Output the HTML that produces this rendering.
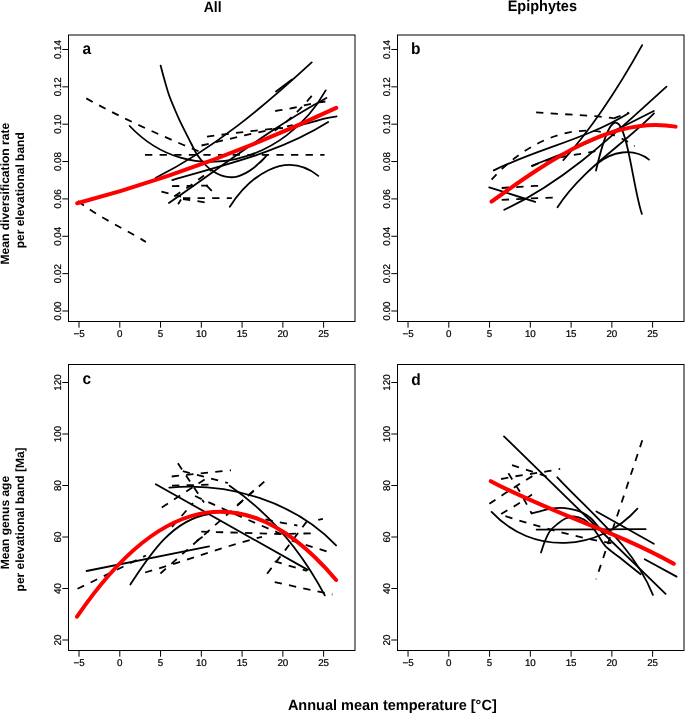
<!DOCTYPE html><html><head><meta charset="utf-8"><style>html,body{margin:0;padding:0;background:#fff;}svg{display:block;will-change:transform;}text{font-family:"Liberation Sans", sans-serif;text-rendering:geometricPrecision;}</style></head><body>
<svg width="685" height="714" viewBox="0 0 685 714">
<rect x="0" y="0" width="685" height="714" fill="#fff"/>
<rect x="68.5" y="35.0" width="286.50" height="286.50" fill="none" stroke="#000" stroke-width="1"/>
<line x1="79.03" y1="321.5" x2="79.03" y2="327.70" stroke="#000" stroke-width="1"/>
<text x="79.03" y="336.80" font-size="9.8" stroke="#000" stroke-width="0.22" text-anchor="middle">−5</text>
<line x1="119.80" y1="321.5" x2="119.80" y2="327.70" stroke="#000" stroke-width="1"/>
<text x="119.80" y="336.80" font-size="9.8" stroke="#000" stroke-width="0.22" text-anchor="middle">0</text>
<line x1="160.56" y1="321.5" x2="160.56" y2="327.70" stroke="#000" stroke-width="1"/>
<text x="160.56" y="336.80" font-size="9.8" stroke="#000" stroke-width="0.22" text-anchor="middle">5</text>
<line x1="201.33" y1="321.5" x2="201.33" y2="327.70" stroke="#000" stroke-width="1"/>
<text x="201.33" y="336.80" font-size="9.8" stroke="#000" stroke-width="0.22" text-anchor="middle">10</text>
<line x1="242.09" y1="321.5" x2="242.09" y2="327.70" stroke="#000" stroke-width="1"/>
<text x="242.09" y="336.80" font-size="9.8" stroke="#000" stroke-width="0.22" text-anchor="middle">15</text>
<line x1="282.86" y1="321.5" x2="282.86" y2="327.70" stroke="#000" stroke-width="1"/>
<text x="282.86" y="336.80" font-size="9.8" stroke="#000" stroke-width="0.22" text-anchor="middle">20</text>
<line x1="323.62" y1="321.5" x2="323.62" y2="327.70" stroke="#000" stroke-width="1"/>
<text x="323.62" y="336.80" font-size="9.8" stroke="#000" stroke-width="0.22" text-anchor="middle">25</text>
<line x1="62.30" y1="311.00" x2="68.5" y2="311.00" stroke="#000" stroke-width="1"/>
<text transform="translate(61.00,311.00) rotate(-90)" font-size="9.8" stroke="#000" stroke-width="0.22" text-anchor="middle">0.00</text>
<line x1="62.30" y1="273.64" x2="68.5" y2="273.64" stroke="#000" stroke-width="1"/>
<text transform="translate(61.00,273.64) rotate(-90)" font-size="9.8" stroke="#000" stroke-width="0.22" text-anchor="middle">0.02</text>
<line x1="62.30" y1="236.28" x2="68.5" y2="236.28" stroke="#000" stroke-width="1"/>
<text transform="translate(61.00,236.28) rotate(-90)" font-size="9.8" stroke="#000" stroke-width="0.22" text-anchor="middle">0.04</text>
<line x1="62.30" y1="198.92" x2="68.5" y2="198.92" stroke="#000" stroke-width="1"/>
<text transform="translate(61.00,198.92) rotate(-90)" font-size="9.8" stroke="#000" stroke-width="0.22" text-anchor="middle">0.06</text>
<line x1="62.30" y1="161.56" x2="68.5" y2="161.56" stroke="#000" stroke-width="1"/>
<text transform="translate(61.00,161.56) rotate(-90)" font-size="9.8" stroke="#000" stroke-width="0.22" text-anchor="middle">0.08</text>
<line x1="62.30" y1="124.20" x2="68.5" y2="124.20" stroke="#000" stroke-width="1"/>
<text transform="translate(61.00,124.20) rotate(-90)" font-size="9.8" stroke="#000" stroke-width="0.22" text-anchor="middle">0.10</text>
<line x1="62.30" y1="86.84" x2="68.5" y2="86.84" stroke="#000" stroke-width="1"/>
<text transform="translate(61.00,86.84) rotate(-90)" font-size="9.8" stroke="#000" stroke-width="0.22" text-anchor="middle">0.12</text>
<line x1="62.30" y1="49.48" x2="68.5" y2="49.48" stroke="#000" stroke-width="1"/>
<text transform="translate(61.00,49.48) rotate(-90)" font-size="9.8" stroke="#000" stroke-width="0.22" text-anchor="middle">0.14</text>
<rect x="397.5" y="35.0" width="286.50" height="286.50" fill="none" stroke="#000" stroke-width="1"/>
<line x1="408.04" y1="321.5" x2="408.04" y2="327.70" stroke="#000" stroke-width="1"/>
<text x="408.04" y="336.80" font-size="9.8" stroke="#000" stroke-width="0.22" text-anchor="middle">−5</text>
<line x1="448.80" y1="321.5" x2="448.80" y2="327.70" stroke="#000" stroke-width="1"/>
<text x="448.80" y="336.80" font-size="9.8" stroke="#000" stroke-width="0.22" text-anchor="middle">0</text>
<line x1="489.56" y1="321.5" x2="489.56" y2="327.70" stroke="#000" stroke-width="1"/>
<text x="489.56" y="336.80" font-size="9.8" stroke="#000" stroke-width="0.22" text-anchor="middle">5</text>
<line x1="530.33" y1="321.5" x2="530.33" y2="327.70" stroke="#000" stroke-width="1"/>
<text x="530.33" y="336.80" font-size="9.8" stroke="#000" stroke-width="0.22" text-anchor="middle">10</text>
<line x1="571.10" y1="321.5" x2="571.10" y2="327.70" stroke="#000" stroke-width="1"/>
<text x="571.10" y="336.80" font-size="9.8" stroke="#000" stroke-width="0.22" text-anchor="middle">15</text>
<line x1="611.86" y1="321.5" x2="611.86" y2="327.70" stroke="#000" stroke-width="1"/>
<text x="611.86" y="336.80" font-size="9.8" stroke="#000" stroke-width="0.22" text-anchor="middle">20</text>
<line x1="652.62" y1="321.5" x2="652.62" y2="327.70" stroke="#000" stroke-width="1"/>
<text x="652.62" y="336.80" font-size="9.8" stroke="#000" stroke-width="0.22" text-anchor="middle">25</text>
<line x1="391.30" y1="311.00" x2="397.5" y2="311.00" stroke="#000" stroke-width="1"/>
<text transform="translate(390.00,311.00) rotate(-90)" font-size="9.8" stroke="#000" stroke-width="0.22" text-anchor="middle">0.00</text>
<line x1="391.30" y1="273.64" x2="397.5" y2="273.64" stroke="#000" stroke-width="1"/>
<text transform="translate(390.00,273.64) rotate(-90)" font-size="9.8" stroke="#000" stroke-width="0.22" text-anchor="middle">0.02</text>
<line x1="391.30" y1="236.28" x2="397.5" y2="236.28" stroke="#000" stroke-width="1"/>
<text transform="translate(390.00,236.28) rotate(-90)" font-size="9.8" stroke="#000" stroke-width="0.22" text-anchor="middle">0.04</text>
<line x1="391.30" y1="198.92" x2="397.5" y2="198.92" stroke="#000" stroke-width="1"/>
<text transform="translate(390.00,198.92) rotate(-90)" font-size="9.8" stroke="#000" stroke-width="0.22" text-anchor="middle">0.06</text>
<line x1="391.30" y1="161.56" x2="397.5" y2="161.56" stroke="#000" stroke-width="1"/>
<text transform="translate(390.00,161.56) rotate(-90)" font-size="9.8" stroke="#000" stroke-width="0.22" text-anchor="middle">0.08</text>
<line x1="391.30" y1="124.20" x2="397.5" y2="124.20" stroke="#000" stroke-width="1"/>
<text transform="translate(390.00,124.20) rotate(-90)" font-size="9.8" stroke="#000" stroke-width="0.22" text-anchor="middle">0.10</text>
<line x1="391.30" y1="86.84" x2="397.5" y2="86.84" stroke="#000" stroke-width="1"/>
<text transform="translate(390.00,86.84) rotate(-90)" font-size="9.8" stroke="#000" stroke-width="0.22" text-anchor="middle">0.12</text>
<line x1="391.30" y1="49.48" x2="397.5" y2="49.48" stroke="#000" stroke-width="1"/>
<text transform="translate(390.00,49.48) rotate(-90)" font-size="9.8" stroke="#000" stroke-width="0.22" text-anchor="middle">0.14</text>
<rect x="68.5" y="364.5" width="286.50" height="286.00" fill="none" stroke="#000" stroke-width="1"/>
<line x1="79.03" y1="650.5" x2="79.03" y2="656.70" stroke="#000" stroke-width="1"/>
<text x="79.03" y="665.80" font-size="9.8" stroke="#000" stroke-width="0.22" text-anchor="middle">−5</text>
<line x1="119.80" y1="650.5" x2="119.80" y2="656.70" stroke="#000" stroke-width="1"/>
<text x="119.80" y="665.80" font-size="9.8" stroke="#000" stroke-width="0.22" text-anchor="middle">0</text>
<line x1="160.56" y1="650.5" x2="160.56" y2="656.70" stroke="#000" stroke-width="1"/>
<text x="160.56" y="665.80" font-size="9.8" stroke="#000" stroke-width="0.22" text-anchor="middle">5</text>
<line x1="201.33" y1="650.5" x2="201.33" y2="656.70" stroke="#000" stroke-width="1"/>
<text x="201.33" y="665.80" font-size="9.8" stroke="#000" stroke-width="0.22" text-anchor="middle">10</text>
<line x1="242.09" y1="650.5" x2="242.09" y2="656.70" stroke="#000" stroke-width="1"/>
<text x="242.09" y="665.80" font-size="9.8" stroke="#000" stroke-width="0.22" text-anchor="middle">15</text>
<line x1="282.86" y1="650.5" x2="282.86" y2="656.70" stroke="#000" stroke-width="1"/>
<text x="282.86" y="665.80" font-size="9.8" stroke="#000" stroke-width="0.22" text-anchor="middle">20</text>
<line x1="323.62" y1="650.5" x2="323.62" y2="656.70" stroke="#000" stroke-width="1"/>
<text x="323.62" y="665.80" font-size="9.8" stroke="#000" stroke-width="0.22" text-anchor="middle">25</text>
<line x1="62.30" y1="640.00" x2="68.5" y2="640.00" stroke="#000" stroke-width="1"/>
<text transform="translate(61.00,640.00) rotate(-90)" font-size="9.8" stroke="#000" stroke-width="0.22" text-anchor="middle">20</text>
<line x1="62.30" y1="588.50" x2="68.5" y2="588.50" stroke="#000" stroke-width="1"/>
<text transform="translate(61.00,588.50) rotate(-90)" font-size="9.8" stroke="#000" stroke-width="0.22" text-anchor="middle">40</text>
<line x1="62.30" y1="537.00" x2="68.5" y2="537.00" stroke="#000" stroke-width="1"/>
<text transform="translate(61.00,537.00) rotate(-90)" font-size="9.8" stroke="#000" stroke-width="0.22" text-anchor="middle">60</text>
<line x1="62.30" y1="485.50" x2="68.5" y2="485.50" stroke="#000" stroke-width="1"/>
<text transform="translate(61.00,485.50) rotate(-90)" font-size="9.8" stroke="#000" stroke-width="0.22" text-anchor="middle">80</text>
<line x1="62.30" y1="434.00" x2="68.5" y2="434.00" stroke="#000" stroke-width="1"/>
<text transform="translate(61.00,434.00) rotate(-90)" font-size="9.8" stroke="#000" stroke-width="0.22" text-anchor="middle">100</text>
<line x1="62.30" y1="382.50" x2="68.5" y2="382.50" stroke="#000" stroke-width="1"/>
<text transform="translate(61.00,382.50) rotate(-90)" font-size="9.8" stroke="#000" stroke-width="0.22" text-anchor="middle">120</text>
<rect x="397.5" y="364.5" width="286.50" height="286.00" fill="none" stroke="#000" stroke-width="1"/>
<line x1="408.04" y1="650.5" x2="408.04" y2="656.70" stroke="#000" stroke-width="1"/>
<text x="408.04" y="665.80" font-size="9.8" stroke="#000" stroke-width="0.22" text-anchor="middle">−5</text>
<line x1="448.80" y1="650.5" x2="448.80" y2="656.70" stroke="#000" stroke-width="1"/>
<text x="448.80" y="665.80" font-size="9.8" stroke="#000" stroke-width="0.22" text-anchor="middle">0</text>
<line x1="489.56" y1="650.5" x2="489.56" y2="656.70" stroke="#000" stroke-width="1"/>
<text x="489.56" y="665.80" font-size="9.8" stroke="#000" stroke-width="0.22" text-anchor="middle">5</text>
<line x1="530.33" y1="650.5" x2="530.33" y2="656.70" stroke="#000" stroke-width="1"/>
<text x="530.33" y="665.80" font-size="9.8" stroke="#000" stroke-width="0.22" text-anchor="middle">10</text>
<line x1="571.10" y1="650.5" x2="571.10" y2="656.70" stroke="#000" stroke-width="1"/>
<text x="571.10" y="665.80" font-size="9.8" stroke="#000" stroke-width="0.22" text-anchor="middle">15</text>
<line x1="611.86" y1="650.5" x2="611.86" y2="656.70" stroke="#000" stroke-width="1"/>
<text x="611.86" y="665.80" font-size="9.8" stroke="#000" stroke-width="0.22" text-anchor="middle">20</text>
<line x1="652.62" y1="650.5" x2="652.62" y2="656.70" stroke="#000" stroke-width="1"/>
<text x="652.62" y="665.80" font-size="9.8" stroke="#000" stroke-width="0.22" text-anchor="middle">25</text>
<line x1="391.30" y1="640.00" x2="397.5" y2="640.00" stroke="#000" stroke-width="1"/>
<text transform="translate(390.00,640.00) rotate(-90)" font-size="9.8" stroke="#000" stroke-width="0.22" text-anchor="middle">20</text>
<line x1="391.30" y1="588.50" x2="397.5" y2="588.50" stroke="#000" stroke-width="1"/>
<text transform="translate(390.00,588.50) rotate(-90)" font-size="9.8" stroke="#000" stroke-width="0.22" text-anchor="middle">40</text>
<line x1="391.30" y1="537.00" x2="397.5" y2="537.00" stroke="#000" stroke-width="1"/>
<text transform="translate(390.00,537.00) rotate(-90)" font-size="9.8" stroke="#000" stroke-width="0.22" text-anchor="middle">60</text>
<line x1="391.30" y1="485.50" x2="397.5" y2="485.50" stroke="#000" stroke-width="1"/>
<text transform="translate(390.00,485.50) rotate(-90)" font-size="9.8" stroke="#000" stroke-width="0.22" text-anchor="middle">80</text>
<line x1="391.30" y1="434.00" x2="397.5" y2="434.00" stroke="#000" stroke-width="1"/>
<text transform="translate(390.00,434.00) rotate(-90)" font-size="9.8" stroke="#000" stroke-width="0.22" text-anchor="middle">100</text>
<line x1="391.30" y1="382.50" x2="397.5" y2="382.50" stroke="#000" stroke-width="1"/>
<text transform="translate(390.00,382.50) rotate(-90)" font-size="9.8" stroke="#000" stroke-width="0.22" text-anchor="middle">120</text>
<text transform="translate(82.4,53.6) scale(1,1.04)" font-size="15.5" font-weight="bold">a</text>
<text transform="translate(411.0,54.4) scale(1,1.04)" font-size="15.5" font-weight="bold">b</text>
<text transform="translate(82.4,384.0) scale(1,1.04)" font-size="15.5" font-weight="bold">c</text>
<text transform="translate(411.3,385.4) scale(1,1.04)" font-size="15.5" font-weight="bold">d</text>
<text transform="translate(212.7,12.1) scale(1,1.07)" font-size="14" font-weight="bold" text-anchor="middle">All</text>
<text transform="translate(542.3,10.7) scale(1,1.05)" font-size="14.5" font-weight="bold" text-anchor="middle">Epiphytes</text>
<text transform="translate(392.3,710.4) scale(1,1.02)" font-size="14.5" font-weight="bold" text-anchor="middle">Annual mean temperature [°C]</text>
<text transform="translate(9.4,193.6) rotate(-90)" font-size="12.1" font-weight="bold" text-anchor="middle">Mean diversification rate</text>
<text transform="translate(24.4,190.3) rotate(-90)" font-size="12" font-weight="bold" text-anchor="middle">per elevational band</text>
<text transform="translate(9.4,522.6) rotate(-90)" font-size="12" font-weight="bold" text-anchor="middle">Mean genus age</text>
<text transform="translate(24.4,519.4) rotate(-90)" font-size="12" font-weight="bold" text-anchor="middle">per elevational band [Ma]</text>
<path d="M160.6 65.6C161.3 68.17 163.4 76.1 164.8 81C166.2 85.9 167.37 90.33 169 95C170.63 99.67 172.73 104.57 174.6 109C176.47 113.43 178.33 117.63 180.2 121.6C182.07 125.57 183.93 129.07 185.8 132.8C187.67 136.53 189.53 140.37 191.4 144C193.27 147.63 194.73 151.18 197 154.6C199.27 158.02 202.32 161.72 205 164.5C207.68 167.28 210.43 169.5 213.1 171.3C215.77 173.1 218.25 174.32 221 175.3C223.75 176.28 226.77 177.03 229.6 177.2C232.43 177.37 235.25 177.02 238 176.3C240.75 175.58 243.68 174.15 246.1 172.9C248.52 171.65 250.45 170.33 252.5 168.8C254.55 167.27 256.65 165.25 258.4 163.7C260.15 162.15 261.57 160.97 263 159.5C264.43 158.03 266.33 155.67 267 154.9" fill="none" stroke="#000" stroke-width="1.8" stroke-linecap="round"/>
<path d="M129.7 126C190.55 190.49 286.12 161.77 325.7 90.4" fill="none" stroke="#000" stroke-width="1.8" stroke-linecap="round"/>
<path d="M155.8 177.7C213.94 148.79 264.1 106.2 311.7 62.4" fill="none" stroke="#000" stroke-width="1.8" stroke-linecap="round"/>
<path d="M276 91.5L292 79.5" fill="none" stroke="#000" stroke-width="1.8" stroke-linecap="round"/>
<path d="M172.3 180.1C225.46 164.24 279.16 152.97 328.2 122.1" fill="none" stroke="#000" stroke-width="1.8" stroke-linecap="round"/>
<path d="M168.9 202.9C221.25 167.19 270.26 128.33 326.4 98" fill="none" stroke="#000" stroke-width="1.8" stroke-linecap="round"/>
<path d="M270 137.5C271.67 136.82 275.83 135.15 280 133.4C284.17 131.65 290.83 128.57 295 127C299.17 125.43 301.73 124.93 305 124C308.27 123.07 311.4 122.3 314.6 121.4C317.8 120.5 320.53 119.43 324.2 118.6C327.87 117.77 334.53 116.77 336.6 116.4" fill="none" stroke="#000" stroke-width="1.8" stroke-linecap="round"/>
<path d="M229.8 206.8C248.33 177.68 284.79 148.63 318.3 175.9" fill="none" stroke="#000" stroke-width="1.8" stroke-linecap="round"/>
<path d="M86.3 98.4C124.29 119.5 163.95 137 204 153.5" fill="none" stroke="#000" stroke-width="1.8" stroke-dasharray="7.3 7.3"/>
<path d="M78 201C98.92 217.64 123.48 227.96 145.9 241.9" fill="none" stroke="#000" stroke-width="1.8" stroke-dasharray="7.3 7.3"/>
<path d="M145 154.9L324.5 154.9" fill="none" stroke="#000" stroke-width="1.8" stroke-dasharray="7.3 7.3"/>
<path d="M201.5 145.5C232.04 138.25 261.77 131.17 292.7 125.2" fill="none" stroke="#000" stroke-width="1.8" stroke-dasharray="7.3 7.3"/>
<path d="M207 136.6C232.4 133.32 257.53 130.07 283 128" fill="none" stroke="#000" stroke-width="1.8" stroke-dasharray="7.3 7.3"/>
<path d="M275.2 111C294.65 108.78 312.92 101.55 332.6 101" fill="none" stroke="#000" stroke-width="1.8" stroke-dasharray="7.3 7.3"/>
<path d="M274.6 130.8Q293.4 117.82 312.2 95.38" fill="none" stroke="#000" stroke-width="1.8" stroke-dasharray="7.3 7.3"/>
<path d="M172 186.1L208 185.6" fill="none" stroke="#000" stroke-width="1.8" stroke-dasharray="7.3 7.3"/>
<path d="M206.6 185.6L211.3 190.3" fill="none" stroke="#000" stroke-width="1.8" stroke-linecap="round"/>
<path d="M161.4 191.7L181 196.6" fill="none" stroke="#000" stroke-width="1.8" stroke-dasharray="7.3 7.3"/>
<path d="M183 198.2L231.8 198.2" fill="none" stroke="#000" stroke-width="1.8" stroke-dasharray="7.3 7.3"/>
<path d="M183 199L205.2 202.4" fill="none" stroke="#000" stroke-width="1.8" stroke-dasharray="7.3 7.3"/>
<path d="M174.2 196.4L190.9 185.2L212.4 169.2" fill="none" stroke="#000" stroke-width="1.8" stroke-dasharray="7.3 7.3"/>
<path d="M178.1 204.2L181 199.5" fill="none" stroke="#000" stroke-width="1.8" stroke-dasharray="7.3 7.3"/>
<path d="M77.2 203.29Q206.7 168.83 336.2 107.91" fill="none" stroke="#f00" stroke-width="4.0" stroke-linecap="round"/>
<path d="M563.3 160.16Q602.75 116.04 642.2 45.09" fill="none" stroke="#000" stroke-width="1.8" stroke-linecap="round"/>
<path d="M596 170.5C622.59 55.77 629.6 178.54 641.9 213.9" fill="none" stroke="#000" stroke-width="1.8" stroke-linecap="round"/>
<path d="M493.8 170.4C537.86 148.67 586.18 139.33 628.6 113.2" fill="none" stroke="#000" stroke-width="1.8" stroke-linecap="round"/>
<path d="M504.3 209.8C566.98 180.28 615.89 132.5 666.5 86.6" fill="none" stroke="#000" stroke-width="1.8" stroke-linecap="round"/>
<path d="M557.5 207.2C582.12 169.02 622.47 145.74 654 113.4" fill="none" stroke="#000" stroke-width="1.8" stroke-linecap="round"/>
<path d="M531.8 165.73Q592.8 142.83 653.8 110.98" fill="none" stroke="#000" stroke-width="1.8" stroke-linecap="round"/>
<path d="M489.2 187.4Q512.25 194.49 535.2 201.9" fill="none" stroke="#000" stroke-width="1.8" stroke-linecap="round"/>
<path d="M596.9 163.8C611.57 151.74 632.7 147.17 649 159.6" fill="none" stroke="#000" stroke-width="1.8" stroke-linecap="round"/>
<path d="M536.1 112.4C561.73 114.58 588.21 114.51 613.7 118.4" fill="none" stroke="#000" stroke-width="1.8" stroke-dasharray="7.3 7.3"/>
<path d="M613.7 118.4Q621.26 115.54 628.8 112.6" fill="none" stroke="#000" stroke-width="1.8" stroke-dasharray="7.3 7.3"/>
<path d="M491.6 179.6C526.45 140.42 585.98 111.53 634.7 146.2" fill="none" stroke="#000" stroke-width="1.8" stroke-dasharray="7.3 7.3"/>
<path d="M531.7 166.4C552.45 155.83 576.53 155.81 598.6 150.4" fill="none" stroke="#000" stroke-width="1.8" stroke-dasharray="7.3 7.3"/>
<path d="M501.7 188Q520.74 186.66 539.8 185.7" fill="none" stroke="#000" stroke-width="1.8" stroke-dasharray="7.3 7.3"/>
<path d="M501.7 199.9Q530.59 198.35 559.5 197.3" fill="none" stroke="#000" stroke-width="1.8" stroke-dasharray="7.3 7.3"/>
<path d="M491.5 201.58C552.87 157.52 614.23 115.59 675.6 126.62" fill="none" stroke="#f00" stroke-width="4.0" stroke-linecap="round"/>
<path d="M86.6 571L209.1 546.4" fill="none" stroke="#000" stroke-width="1.8" stroke-linecap="round"/>
<path d="M130.4 584.5C149.31 555.67 171.63 519.98 209 514" fill="none" stroke="#000" stroke-width="1.8" stroke-linecap="round"/>
<path d="M155.8 484.2L307.8 569.9" fill="none" stroke="#000" stroke-width="1.8" stroke-linecap="round"/>
<path d="M169.3 487.7C229.1 482.02 293.99 501.49 336.1 545.3" fill="none" stroke="#000" stroke-width="1.8" stroke-linecap="round"/>
<path d="M229.6 485.7C270.95 514.2 301.52 551.53 324.8 595.4" fill="none" stroke="#000" stroke-width="1.8" stroke-linecap="round"/>
<path d="M77.5 588.8L108.5 573.8L146 555.5" fill="none" stroke="#000" stroke-width="1.8" stroke-dasharray="7.3 7.3"/>
<path d="M145.1 572.5C184.52 561.31 222.47 546.85 262 536.8" fill="none" stroke="#000" stroke-width="1.8" stroke-dasharray="7.3 7.3"/>
<path d="M160.4 573.5L266.7 479.5" fill="none" stroke="#000" stroke-width="1.8" stroke-dasharray="7.3 7.3"/>
<path d="M171.7 476.5Q201.34 473.32 231 470.3" fill="none" stroke="#000" stroke-width="1.8" stroke-dasharray="7.3 7.3"/>
<path d="M177.9 463.3L204 502.5" fill="none" stroke="#000" stroke-width="1.8" stroke-dasharray="7.3 7.3"/>
<path d="M195 496.01Q237.5 515.69 280 533.46" fill="none" stroke="#000" stroke-width="1.8" stroke-dasharray="7.3 7.3"/>
<path d="M201.3 531.6L280 534L316 533.2" fill="none" stroke="#000" stroke-width="1.8" stroke-dasharray="7.3 7.3"/>
<path d="M236.9 513.26Q267.15 520.19 297.4 525.51" fill="none" stroke="#000" stroke-width="1.8" stroke-dasharray="7.3 7.3"/>
<path d="M161.8 507.5L206.8 478.2" fill="none" stroke="#000" stroke-width="1.8" stroke-dasharray="7.3 7.3"/>
<path d="M182.8 471.2L228 483" fill="none" stroke="#000" stroke-width="1.8" stroke-dasharray="7.3 7.3"/>
<path d="M172 527L193 503" fill="none" stroke="#000" stroke-width="1.8" stroke-dasharray="7.3 7.3"/>
<path d="M172 485.6L212 484.6" fill="none" stroke="#000" stroke-width="1.8" stroke-dasharray="7.3 7.3"/>
<path d="M237.8 504.7L253.9 490.5" fill="none" stroke="#000" stroke-width="1.8" stroke-dasharray="7.3 7.3"/>
<path d="M267.1 573.7L286 549.1L308.7 518.9" fill="none" stroke="#000" stroke-width="1.8" stroke-dasharray="7.3 7.3"/>
<path d="M274.7 582.2L332.4 594.5" fill="none" stroke="#000" stroke-width="1.8" stroke-dasharray="7.3 7.3"/>
<path d="M291.7 540.6L328.6 552" fill="none" stroke="#000" stroke-width="1.8" stroke-dasharray="7.3 7.3"/>
<path d="M274.7 561.4L306.8 570.9" fill="none" stroke="#000" stroke-width="1.8" stroke-dasharray="7.3 7.3"/>
<path d="M318.2 519.8L322.9 518.9" fill="none" stroke="#000" stroke-width="1.8" stroke-dasharray="7.3 7.3"/>
<path d="M196.7 541.1L205 535" fill="none" stroke="#000" stroke-width="1.8" stroke-dasharray="7.3 7.3"/>
<path d="M77 616.73Q206.55 426.93 336.1 579.97" fill="none" stroke="#f00" stroke-width="4.0" stroke-linecap="round"/>
<path d="M504 436.4L585 515.5L665.6 593.9" fill="none" stroke="#000" stroke-width="1.8" stroke-linecap="round"/>
<path d="M557.3 477.3C592.06 514.51 633.14 546.09 652.9 594.8" fill="none" stroke="#000" stroke-width="1.8" stroke-linecap="round"/>
<path d="M491.6 511.9C532.2 555.84 599.22 551.69 637.4 508.6" fill="none" stroke="#000" stroke-width="1.8" stroke-linecap="round"/>
<path d="M531.7 513.3C533.08 512.97 536.95 512.05 540 511.3C543.05 510.55 546.6 509.38 550 508.8C553.4 508.22 557.07 507.8 560.4 507.8C563.73 507.8 566.58 508.12 570 508.8C573.42 509.48 577.38 510.28 580.9 511.9C584.42 513.52 587.92 515.65 591.1 518.5C594.28 521.35 598.52 527.25 600 529" fill="none" stroke="#000" stroke-width="1.8" stroke-linecap="round"/>
<path d="M536.6 529.6L645.6 529.2" fill="none" stroke="#000" stroke-width="1.8" stroke-linecap="round"/>
<path d="M596.4 511.5L653.8 543.8" fill="none" stroke="#000" stroke-width="1.8" stroke-linecap="round"/>
<path d="M644.7 559.3L676.6 576.6" fill="none" stroke="#000" stroke-width="1.8" stroke-linecap="round"/>
<path d="M541 552.5C541.67 550.58 543.47 544.62 545 541C546.53 537.38 548.03 533.72 550.2 530.8C552.37 527.88 555.45 525.55 558 523.5C560.55 521.45 562.88 519.67 565.5 518.5C568.12 517.33 570.63 516.33 573.7 516.5C576.77 516.67 581 517.97 583.9 519.5C586.8 521.03 588.88 523.32 591.1 525.7C593.32 528.08 594.82 530.4 597.2 533.8C599.58 537.2 601.6 542.1 605.4 546.1C609.2 550.1 614.13 553.12 620 557.8C625.87 562.48 637.17 571.47 640.6 574.2" fill="none" stroke="#000" stroke-width="1.8" stroke-linecap="round"/>
<path d="M642.3 440.2L596.1 579.3" fill="none" stroke="#000" stroke-width="1.8" stroke-dasharray="7.3 7.3"/>
<path d="M512 465.1Q531.59 471.27 551 478" fill="none" stroke="#000" stroke-width="1.8" stroke-dasharray="7.3 7.3"/>
<path d="M501.1 479C520.8 474.7 540.5 473.1 560.2 468.8" fill="none" stroke="#000" stroke-width="1.8" stroke-dasharray="7.3 7.3"/>
<path d="M508.4 473.2L520 492L532 514" fill="none" stroke="#000" stroke-width="1.8" stroke-dasharray="7.3 7.3"/>
<path d="M489.4 503.8L504.7 493.6L525.1 480.5L536.6 473.6" fill="none" stroke="#000" stroke-width="1.8" stroke-dasharray="7.3 7.3"/>
<path d="M501.1 514L517.1 504.6L536.8 491.4" fill="none" stroke="#000" stroke-width="1.8" stroke-dasharray="7.3 7.3"/>
<path d="M505.4 516.2C541.68 527.68 577.12 537.47 614.6 543.8" fill="none" stroke="#000" stroke-width="1.8" stroke-dasharray="7.3 7.3"/>
<path d="M490.8 481.2C550.3 512.93 615.06 530.65 673.8 563.8" fill="none" stroke="#f00" stroke-width="4.0" stroke-linecap="round"/>
</svg></body></html>
